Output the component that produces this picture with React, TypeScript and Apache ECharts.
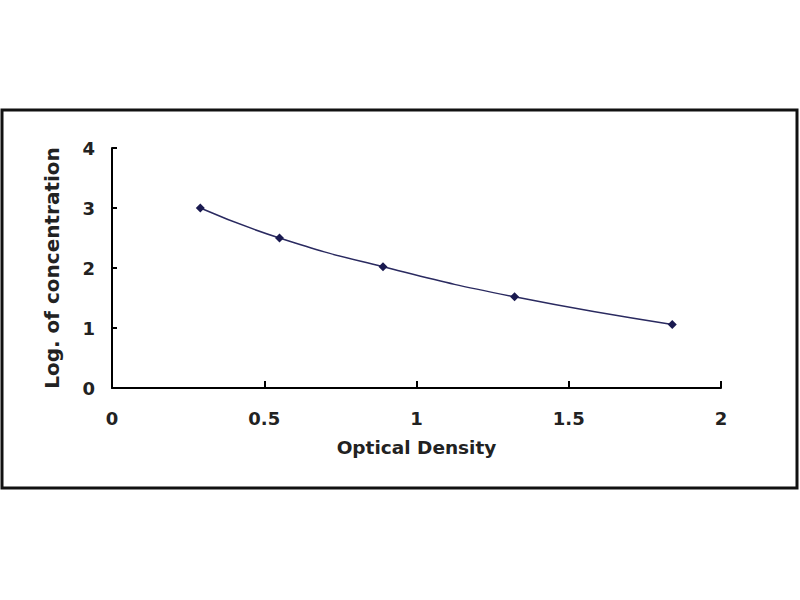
import React, { useEffect, useRef } from "react";
import * as echarts from "echarts";

const opticalDensity = [0.29, 0.55, 0.89, 1.322, 1.84];
const logConcentration = [3.0, 2.5, 2.02, 1.52, 1.06];
const xTicks = [0, 0.5, 1, 1.5, 2];
const yTicks = [0, 1, 2, 3, 4];

const FONT = "DejaVu Sans";

export default function App() {
  const ref = useRef<HTMLDivElement>(null);
  useEffect(() => {
    if (!ref.current) return;
    const chart = echarts.init(ref.current, undefined, { renderer: "svg" });
    const data = opticalDensity.map((x, i) => [x, logConcentration[i]]);
    chart.setOption({
      animation: false,
      backgroundColor: "#ffffff",
      grid: { left: 112, right: 79, top: 148, bottom: 212, containLabel: false },
      graphic: [
        {
          type: "rect",
          shape: { x: 2, y: 110, width: 795, height: 378 },
          style: { fill: "none", stroke: "#111111", lineWidth: 3 },
        },
      ],
      xAxis: {
        type: "value",
        min: xTicks[0],
        max: xTicks[xTicks.length - 1],
        interval: 0.5,
        name: "Optical Density",
        nameLocation: "middle",
        nameGap: 50,
        nameTextStyle: { fontFamily: FONT, fontWeight: "bold", fontSize: 18.5, color: "#222" },
        axisLine: { lineStyle: { color: "#000", width: 2 } },
        axisTick: { inside: true, length: 7, lineStyle: { color: "#000", width: 2 } },
        axisLabel: {
          fontFamily: FONT,
          fontWeight: "bold",
          fontSize: 18,
          color: "#222",
          margin: 21,
          formatter: (v: number) => String(v),
        },
        splitLine: { show: false },
      },
      yAxis: {
        type: "value",
        min: yTicks[0],
        max: yTicks[yTicks.length - 1],
        interval: 1,
        name: "Log. of concentration",
        nameLocation: "middle",
        nameGap: 50,
        nameTextStyle: { fontFamily: FONT, fontWeight: "bold", fontSize: 20, color: "#222" },
        axisLine: { show: true, lineStyle: { color: "#000", width: 2 } },
        axisTick: { show: true, inside: true, length: 5, lineStyle: { color: "#000", width: 2 } },
        axisLabel: {
          fontFamily: FONT,
          fontWeight: "bold",
          fontSize: 18,
          color: "#222",
          margin: 17,
        },
        splitLine: { show: false },
      },
      series: [
        {
          type: "line",
          data,
          smooth: true,
          symbol: "diamond",
          symbolSize: 9,
          itemStyle: { color: "#1a1a50" },
          lineStyle: { color: "#2a2a60", width: 1.5 },
        },
      ],
    });
    return () => chart.dispose();
  }, []);
  return (
    <div
      ref={ref}
      style={{ position: "fixed", left: 0, top: 0, width: 800, height: 600, background: "#fff" }}
    />
  );
}
